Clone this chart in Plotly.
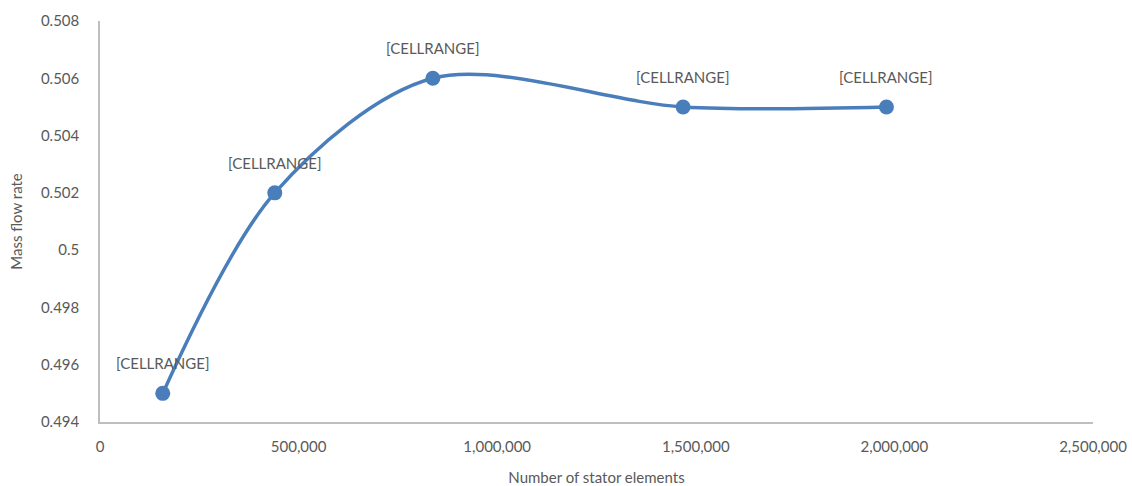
import plotly.graph_objects as go

# Mesh independence study: stator element count vs. mass flow rate
stator_elements = [158000, 440000, 838000, 1468000, 1980000]
mass_flow_rate = [0.495, 0.502, 0.506, 0.505, 0.505]
point_labels = ["[CELLRANGE]"] * len(stator_elements)

y_tick_vals = [0.494, 0.496, 0.498, 0.5, 0.502, 0.504, 0.506, 0.508]
y_tick_text = ["0.494", "0.496", "0.498", "0.5", "0.502", "0.504", "0.506", "0.508"]

LINE_BLUE = "#4a7ebb"
TEXT_GREY = "#595959"
AXIS_GREY = "#bfbfbf"
FONT = "Lato, 'Open Sans', sans-serif"
FSIZE = 15

fig = go.Figure()
fig.add_trace(go.Scatter(
    x=stator_elements,
    y=mass_flow_rate,
    mode="lines+markers",
    line=dict(color=LINE_BLUE, width=3.5, shape="spline", smoothing=0.9),
    marker=dict(color=LINE_BLUE, size=15),
    hoverinfo="x+y",
    showlegend=False,
))

for xv, yv, lbl in zip(stator_elements, mass_flow_rate, point_labels):
    fig.add_annotation(
        x=xv, y=yv, text=lbl, showarrow=False,
        yshift=30, font=dict(family=FONT, size=FSIZE, color=TEXT_GREY),
    )

fig.update_layout(
    width=1132, height=486,
    margin=dict(l=100, r=39, t=21, b=64),
    paper_bgcolor="white", plot_bgcolor="white",
    font=dict(family=FONT, size=FSIZE, color=TEXT_GREY),
    xaxis=dict(
        range=[0, 2500000], tickvals=[0, 500000, 1000000, 1500000, 2000000, 2500000],
        tickformat=",d", showgrid=False, zeroline=False, automargin=False,
        showline=True, linecolor=AXIS_GREY, linewidth=1.5,
        ticks="", ticklen=0, ticklabelstandoff=10,
        title=dict(text="Number of stator elements", standoff=20,
                   font=dict(family=FONT, size=FSIZE, color=TEXT_GREY)),
    ),
    yaxis=dict(
        range=[0.494, 0.508], tickvals=y_tick_vals, ticktext=y_tick_text,
        showgrid=False, zeroline=False, automargin=False,
        showline=True, linecolor=AXIS_GREY, linewidth=1.5,
        ticks="", ticklen=0, ticklabelstandoff=16,
        title=dict(text="Mass flow rate", standoff=15,
                   font=dict(family=FONT, size=FSIZE, color=TEXT_GREY)),
    ),
)

fig.write_html("out.html")
